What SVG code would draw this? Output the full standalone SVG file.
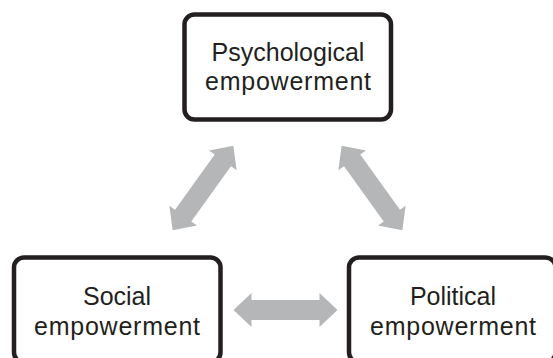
<svg xmlns="http://www.w3.org/2000/svg" width="553" height="358" viewBox="0 0 553 358">
  <style>
    .box { fill: #ffffff; stroke: #231f20; stroke-width: 4.5; }
    .lbl { font-family: "Liberation Sans", Arial, sans-serif; font-size: 25px; fill: #231f20; text-anchor: middle; }
    .arr { fill: #b5b6b8; stroke: none; }
  </style>
  <defs>
    <path id="dbl" d="M-52,0 L-34,-17 L-34,-10 L34,-10 L34,-17 L52,0 L34,17 L34,10 L-34,10 L-34,17 Z"/>
  </defs>
  <rect width="553" height="358" fill="#ffffff"/>
  <g id="connectors">
    <use href="#dbl" class="arr" transform="translate(203,188) rotate(-54.3)"/>
    <use href="#dbl" class="arr" transform="translate(372,188) rotate(54.3)"/>
    <use href="#dbl" class="arr" transform="translate(285.5,310)"/>
  </g>
  <g id="psychological">
    <rect class="box" x="184.5" y="14.5" width="206.5" height="105" rx="10"/>
    <text class="lbl" x="288" y="61">Psychological</text>
    <text class="lbl" x="288" y="90" textLength="166" lengthAdjust="spacing">empowerment</text>
  </g>
  <g id="social">
    <rect class="box" x="14" y="257.5" width="206.5" height="105" rx="10"/>
    <text class="lbl" x="117" y="305">Social</text>
    <text class="lbl" x="117" y="334.5" textLength="166" lengthAdjust="spacing">empowerment</text>
  </g>
  <g id="political">
    <rect class="box" x="349" y="257.5" width="206.5" height="105" rx="10"/>
    <text class="lbl" x="453" y="305">Political</text>
    <text class="lbl" x="453" y="334.5" textLength="166" lengthAdjust="spacing">empowerment</text>
  </g>
</svg>
